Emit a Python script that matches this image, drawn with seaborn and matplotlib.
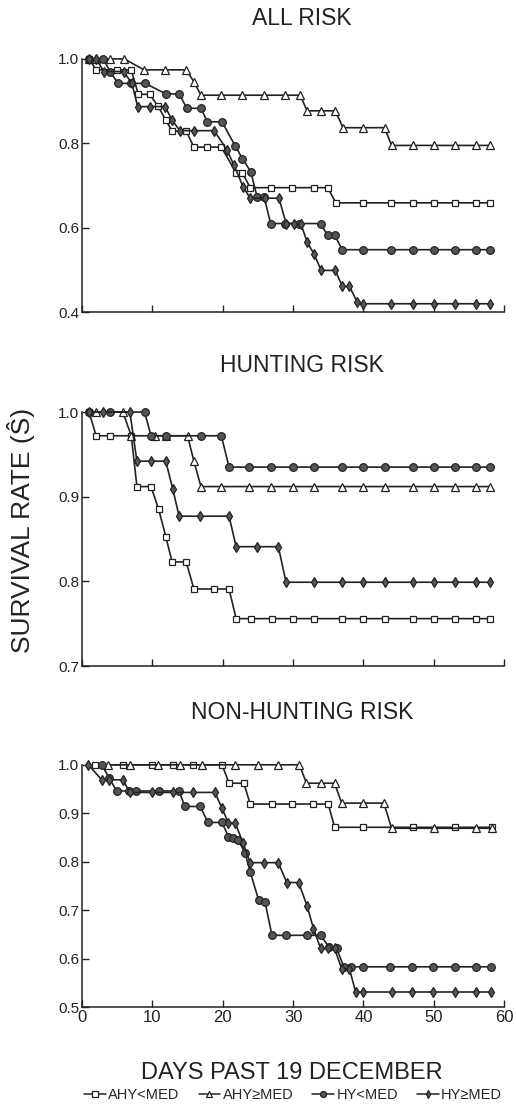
import matplotlib
matplotlib.use('Agg')
import matplotlib.pyplot as plt
import seaborn as sns
from matplotlib.lines import Line2D

# ---- ALL RISK ----
all_ahy_lo_days = [1, 2, 5, 7, 8, 9.6, 10.8, 11.9, 12.8, 14.8, 15.9, 17.8, 19.8, 21.9, 22.8, 23.9, 26.9, 29.9, 33, 34.9, 36.1, 40, 43.9, 47, 50, 53, 56, 58]
all_ahy_lo_s = [1.0, .974, .974, .974, .916, .916, .888, .855, .829, .829, .791, .791, .791, .73, .73, .695, .695, .695, .695, .695, .659, .659, .659, .659, .659, .659, .659, .659]
all_ahy_hi_days = [1, 2, 4, 6, 8.8, 11.8, 14.8, 15.9, 16.9, 19.8, 22.8, 25.8, 28.8, 31, 32, 34, 36, 37.1, 40, 43, 44, 47, 50, 53, 56, 58]
all_ahy_hi_s = [1, 1, 1, 1, .974, .974, .974, .946, .914, .914, .914, .914, .914, .914, .877, .877, .877, .837, .837, .837, .795, .795, .795, .795, .795, .795]
all_hy_lo_days = [1, 3, 4, 5.1, 7, 9, 11.9, 13.8, 14.9, 16.9, 17.8, 19.9, 21.8, 22.8, 24, 24.9, 25.9, 26.8, 28.9, 30.8, 33.9, 34.9, 35.9, 37, 40, 43.9, 47, 50, 53, 56, 58]
all_hy_lo_s = [1, 1, .97, .942, .942, .942, .917, .917, .883, .883, .851, .851, .793, .764, .732, .672, .672, .61, .61, .61, .61, .582, .582, .548, .548, .548, .548, .548, .548, .548, .548]
all_hy_hi_days = [1, 2, 3.1, 5.9, 7.1, 7.9, 9.7, 11.8, 12.8, 13.9, 15.9, 18.8, 20.6, 21.6, 22.9, 23.9, 26, 28, 29, 30.2, 31.1, 32, 33, 34, 36, 37, 38, 39.1, 40, 43.9, 47, 50, 53, 56, 58]
all_hy_hi_s = [1, 1, .97, .97, .942, .887, .887, .887, .855, .83, .83, .83, .784, .748, .697, .67, .67, .67, .61, .61, .61, .566, .537, .499, .499, .461, .461, .425, .42, .42, .42, .42, .42, .42, .42]

# ---- HUNTING RISK ----
hunt_ahy_lo_days = [1, 2, 4, 7, 7.8, 9.8, 10.9, 11.9, 12.8, 14.8, 15.9, 18.8, 20.9, 21.9, 24, 27, 30, 33, 37, 40, 43, 47, 50, 53, 56, 58]
hunt_ahy_lo_s = [1, .972, .972, .972, .912, .912, .885, .853, .823, .823, .791, .791, .791, .756, .756, .756, .756, .756, .756, .756, .756, .756, .756, .756, .756, .756]
hunt_ahy_hi_days = [2, 5.8, 7, 10.3, 11.9, 15, 15.9, 16.9, 19.8, 23.8, 26.9, 30, 33, 37, 40, 43, 47, 50, 53, 56, 58]
hunt_ahy_hi_s = [1, 1, .972, .972, .972, .972, .942, .912, .912, .912, .912, .912, .912, .912, .912, .912, .912, .912, .912, .912, .912]
hunt_hy_lo_days = [1, 4, 8.9, 9.8, 11.9, 16.9, 19.8, 20.9, 23.8, 26.9, 30, 33, 37, 40, 43, 47, 50, 53, 56, 58]
hunt_hy_lo_s = [1, 1, 1, .972, .972, .972, .972, .935, .935, .935, .935, .935, .935, .935, .935, .935, .935, .935, .935, .935]
hunt_hy_hi_days = [1, 3, 6.8, 7.8, 9.8, 11.9, 12.9, 13.8, 16.7, 20.9, 21.9, 24.9, 27.9, 29, 33, 37, 40, 43, 47, 50, 53, 56, 58]
hunt_hy_hi_s = [1, 1, 1, .942, .942, .942, .909, .877, .877, .877, .841, .841, .841, .799, .799, .799, .799, .799, .799, .799, .799, .799, .799]

# ---- NON-HUNTING RISK ----
non_ahy_lo_days = [1.8, 5.8, 9.9, 13, 15.8, 19.9, 20.9, 23, 23.9, 27, 29.9, 32.9, 35, 35.9, 40, 47, 53, 58.3]
non_ahy_lo_s = [1, 1, 1, 1, 1, 1, .962, .962, .919, .919, .919, .919, .919, .871, .871, .871, .871, .871]
non_ahy_hi_days = [3.7, 6.8, 10.8, 13.9, 17, 21.8, 25, 27.9, 30.9, 31.9, 33.9, 35.9, 36.9, 39.9, 42.9, 44, 50, 56, 58.3]
non_ahy_hi_s = [1, 1, 1, 1, 1, 1, 1, 1, 1, .962, .962, .962, .921, .921, .921, .869, .869, .869, .869]
non_hy_lo_days = [2.8, 3.9, 4.9, 6.7, 7.6, 11, 13.8, 14.6, 16.8, 17.9, 19.9, 20.8, 21.5, 22.2, 23.2, 23.9, 25.1, 26, 27, 29, 32, 33.9, 35.1, 36.2, 37.2, 38.3, 39.9, 43.8, 46.9, 49.9, 53, 56, 58.1]
non_hy_lo_s = [1, .972, .946, .946, .946, .946, .946, .914, .914, .881, .881, .852, .849, .845, .817, .779, .721, .717, .648, .648, .648, .648, .624, .621, .583, .583, .583, .583, .583, .583, .583, .583, .583]
non_hy_hi_days = [0.9, 2.8, 3.8, 5.8, 6.8, 9.9, 13, 15.8, 18.9, 19.9, 20.8, 21.8, 22.9, 23.9, 25.8, 27.9, 29.1, 30.8, 32, 32.9, 33.9, 35, 35.9, 36.9, 38, 38.9, 39.9, 44, 46.9, 49.9, 53, 56, 58.1]
non_hy_hi_s = [1, .969, .969, .969, .943, .943, .943, .943, .943, .91, .88, .879, .838, .798, .798, .798, .757, .757, .708, .662, .621, .621, .621, .579, .579, .531, .531, .531, .531, .531, .531, .531, .531]

group_labels = ['AHY<MED', 'AHY\u2265MED', 'HY<MED', 'HY\u2265MED']
panel_titles = ['ALL RISK', 'HUNTING RISK', 'NON-HUNTING RISK']
panel_yticks = [[0.4, 0.6, 0.8, 1.0], [0.7, 0.8, 0.9, 1.0], [0.5, 0.6, 0.7, 0.8, 0.9, 1.0]]
x_ticks = [0, 10, 20, 30, 40, 50, 60]

panels = [
    [(all_ahy_lo_days, all_ahy_lo_s), (all_ahy_hi_days, all_ahy_hi_s), (all_hy_lo_days, all_hy_lo_s), (all_hy_hi_days, all_hy_hi_s)],
    [(hunt_ahy_lo_days, hunt_ahy_lo_s), (hunt_ahy_hi_days, hunt_ahy_hi_s), (hunt_hy_lo_days, hunt_hy_lo_s), (hunt_hy_hi_days, hunt_hy_hi_s)],
    [(non_ahy_lo_days, non_ahy_lo_s), (non_ahy_hi_days, non_ahy_hi_s), (non_hy_lo_days, non_hy_lo_s), (non_hy_hi_days, non_hy_hi_s)],
]

styles = [
    dict(marker='s', markerfacecolor='white', markersize=5),
    dict(marker='^', markerfacecolor='white', markersize=6),
    dict(marker='o', markerfacecolor='#555555', markersize=5.5),
    dict(marker='d', markerfacecolor='#555555', markersize=5.2),
]

sns.set_style('ticks')
plt.rcParams['font.family'] = ['Liberation Sans Narrow', 'Liberation Sans', 'DejaVu Sans']

fig = plt.figure(figsize=(5.16, 11.11), dpi=100)
boxes = [[0.159, 0.719, 0.818, 0.228], [0.159, 0.4005, 0.818, 0.2286], [0.159, 0.0936, 0.818, 0.218]]
title_y = [0.983, 0.6706, 0.359]

for i, series in enumerate(panels):
    ax = fig.add_axes(boxes[i])
    for (d, s), st in zip(series, styles):
        sns.lineplot(x=d, y=s, ax=ax, sort=False, estimator=None, color='#222222',
                     linewidth=1.2, markeredgecolor='#222222', markeredgewidth=0.9,
                     clip_on=False, **st)
    ax.set_xlim(0, 60)
    yt = panel_yticks[i]
    ax.set_ylim(yt[0], yt[-1])
    ax.set_yticks(yt)
    ax.set_yticklabels([f'{v:.1f}' for v in yt], fontsize=11)
    ax.set_xticks(x_ticks)
    if i < 2:
        ax.set_xticklabels([])
    else:
        ax.set_xticklabels([str(t) for t in x_ticks], fontsize=12)
    ax.tick_params(direction='in', length=5, width=1, colors='#222222', pad=2)
    sns.despine(ax=ax)
    for sp in ['left', 'bottom']:
        ax.spines[sp].set_linewidth(1.1)
        ax.spines[sp].set_color('#222222')
    fig.text(0.585, title_y[i], panel_titles[i], ha='center', va='center', fontsize=16.5, color='#222222')

fig.text(0.04, 0.523, 'SURVIVAL RATE (\u015c)', rotation=90, ha='center', va='center', fontsize=19, color='#222222')
fig.text(0.566, 0.0345, 'DAYS PAST 19 DECEMBER', ha='center', va='center', fontsize=17, color='#222222')

handles = [Line2D([0], [0], color='#222222', linewidth=1.1, markeredgecolor='#222222',
                  markeredgewidth=0.9, **{**st, 'markersize': st['markersize'] - 1.2})
           for st in styles]
fig.legend(handles, group_labels, loc='center', bbox_to_anchor=(0.568, 0.0144), ncol=4,
           frameon=False, fontsize=10.5, handlelength=1.5, handletextpad=0.15, columnspacing=1.3)

fig.savefig('out.png', dpi=100, facecolor='white')
